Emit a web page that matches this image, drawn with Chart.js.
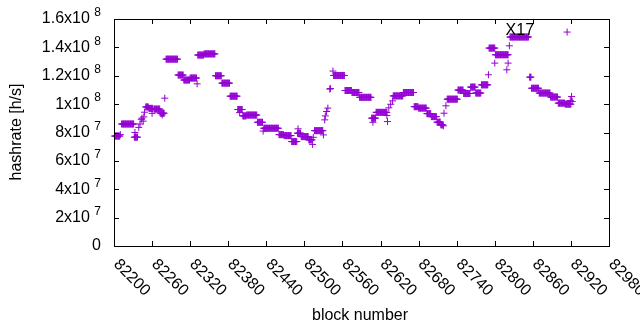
<!DOCTYPE html>
<html>
<head>
<meta charset="utf-8">
<script src="https://cdn.jsdelivr.net/npm/chart.js@4.4.1/dist/chart.umd.min.js"></script>
<style>
  html, body { margin: 0; padding: 0; background: #fff; }
  #wrap { width: 640px; height: 330px; }
</style>
</head>
<body>
<div id="wrap"><canvas id="hashChart"></canvas></div>
<script>
// runs of blocks that share one hashrate estimate (first block, last block, h/s)
const runStart = [82201, 82212, 82232, 82250, 82255, 82263, 82273, 82282, 82301, 82310, 82320, 82332, 82342, 82360, 82370, 82383, 82395, 82403, 82409, 82426, 82436, 82460, 82468, 82480, 82489, 82495, 82507, 82516, 82546, 82564, 82575, 82587, 82606, 82613, 82640, 82656, 82673, 82680, 82693, 82700, 82709, 82715, 82725, 82742, 82751, 82762, 82770, 82779, 82791, 82801, 82824, 82855, 82858, 82870, 82888, 82900, 82911]
const runEnd   = [82209, 82231, 82237, 82254, 82261, 82272, 82279, 82300, 82309, 82319, 82330, 82341, 82359, 82369, 82382, 82394, 82402, 82408, 82425, 82434, 82459, 82467, 82479, 82488, 82494, 82506, 82512, 82529, 82563, 82574, 82586, 82605, 82612, 82630, 82655, 82672, 82679, 82692, 82699, 82708, 82714, 82718, 82741, 82750, 82761, 82769, 82778, 82789, 82800, 82821, 82853, 82857, 82869, 82887, 82899, 82910, 82920]
const runValue = [7.75e7, 8.6e7, 7.67e7, 9.8e7, 9.7e7, 9.65e7, 9.36e7, 13.17e7, 12.05e7, 11.7e7, 11.84e7, 13.46e7, 13.54e7, 12.0e7, 11.48e7, 10.56e7, 9.62e7, 9.17e7, 9.23e7, 8.72e7, 8.3e7, 7.85e7, 7.78e7, 7.36e7, 7.95e7, 7.71e7, 7.48e7, 8.13e7, 12.02e7, 10.96e7, 10.82e7, 10.48e7, 9.01e7, 9.42e7, 10.58e7, 10.82e7, 9.82e7, 9.72e7, 9.33e7, 9.12e7, 8.73e7, 8.54e7, 10.35e7, 10.99e7, 10.75e7, 11.2e7, 10.78e7, 11.36e7, 13.95e7, 13.48e7, 14.73e7, 11.9e7, 11.12e7, 10.78e7, 10.5e7, 10.07e7, 10.0e7]

// single blocks off the runs
const pointBlock = [82210, 82233, 82239, 82241, 82243, 82244, 82246, 82247, 82248, 82260, 82276, 82280, 82331, 82398, 82435, 82490, 82513, 82514, 82530, 82532, 82533, 82535, 82537, 82540, 82541, 82545, 82608, 82630, 82631, 82633, 82636, 82639, 82719, 82720, 82723, 82790, 82800, 82819, 82821, 82823, 82914, 82919, 82921, 82922]
const pointValue = [7.85e7, 8.0e7, 8.36e7, 8.6e7, 8.93e7, 9.01e7, 8.8e7, 9.1e7, 9.43e7, 9.35e7, 9.24e7, 10.42e7, 11.43e7, 9.4e7, 8.1e7, 8.26e7, 7.16e7, 7.66e7, 7.83e7, 8.89e7, 9.17e7, 9.48e7, 9.72e7, 11.06e7, 11.1e7, 12.33e7, 8.72e7, 9.2e7, 8.77e7, 9.74e7, 9.99e7, 10.23e7, 8.47e7, 9.36e7, 9.88e7, 12.07e7, 12.89e7, 12.42e7, 12.89e7, 14.11e7, 15.08e7, 10.25e7, 10.54e7, 10.18e7]

const xTicks = [82200, 82260, 82320, 82380, 82440, 82500, 82560, 82620, 82680, 82740, 82800, 82860, 82920, 82980]
const yTicks = [0, 2e7, 4e7, 6e7, 8e7, 1e8, 1.2e8, 1.4e8, 1.6e8]
const yTickBase = ['0', '2x10', '4x10', '6x10', '8x10', '1x10', '1.2x10', '1.4x10', '1.6x10']
const yTickExp = ['', '7', '7', '7', '7', '8', '8', '8', '8']

const mark = { text: 'X17', block: 82817, value: 1.515e8 }

const PURPLE = '#9400d3'
const FONT = '"Liberation Sans", Arial, sans-serif'

const points = []
runStart.forEach((s, i) => {
  for (let b = s; b <= runEnd[i]; b++) points.push({ x: b, y: runValue[i] })
})
pointBlock.forEach((b, i) => points.push({ x: b, y: pointValue[i] }))

// gnuplot-like frame: box, inward ticks on all sides, labels
const frame = {
  id: 'frame',
  afterDatasetsDraw(chart) {
    const { ctx, chartArea: a, scales } = chart
    const xs = scales.x, ys = scales.y
    const tl = 5
    ctx.save()
    ctx.strokeStyle = '#000'
    ctx.lineWidth = 1
    ctx.beginPath()
    xTicks.forEach(v => {
      const px = Math.round(xs.getPixelForValue(v)) + 0.5
      ctx.moveTo(px, a.bottom); ctx.lineTo(px, a.bottom - tl)
      ctx.moveTo(px, a.top); ctx.lineTo(px, a.top + tl)
    })
    yTicks.forEach(v => {
      const py = Math.round(ys.getPixelForValue(v)) + 0.5
      ctx.moveTo(a.left, py); ctx.lineTo(a.left + tl, py)
      ctx.moveTo(a.right, py); ctx.lineTo(a.right - tl, py)
    })
    ctx.stroke()
    ctx.strokeRect(a.left + 0.5, a.top + 0.5, a.right - a.left, a.bottom - a.top)

    ctx.fillStyle = '#000'
    // y labels with raised exponent
    const rightEdge = 101
    yTicks.forEach((v, i) => {
      const py = ys.getPixelForValue(v)
      ctx.font = '16px ' + FONT
      const bw = ctx.measureText(yTickBase[i]).width
      const sp = yTickExp[i] ? ctx.measureText(' ').width : 0
      ctx.font = '12px ' + FONT
      const ew = yTickExp[i] ? ctx.measureText(yTickExp[i]).width : 0
      ctx.textAlign = 'left'
      ctx.textBaseline = 'middle'
      ctx.font = '16px ' + FONT
      ctx.fillText(yTickBase[i], rightEdge - bw - sp - ew, py)
      if (yTickExp[i]) {
        ctx.font = '12px ' + FONT
        ctx.fillText(yTickExp[i], rightEdge - ew, py - 6)
      }
    })
    // x labels, rotated down-right
    ctx.font = '16px ' + FONT
    xTicks.forEach(v => {
      const px = xs.getPixelForValue(v)
      ctx.save()
      ctx.translate(px + 2, a.bottom + 16)
      ctx.rotate(Math.PI / 4)
      ctx.textAlign = 'left'
      ctx.textBaseline = 'middle'
      ctx.fillText(String(v), 0, 0)
      ctx.restore()
    })
    // axis titles
    ctx.textAlign = 'center'
    ctx.textBaseline = 'middle'
    ctx.fillText('block number', 360, 316)
    ctx.save()
    ctx.translate(17, 132)
    ctx.rotate(-Math.PI / 2)
    ctx.fillText('hashrate [h/s]', 0, 0)
    ctx.restore()
    // label
    ctx.textAlign = 'left'
    ctx.fillText(mark.text, xs.getPixelForValue(mark.block), ys.getPixelForValue(mark.value))
    ctx.restore()
  }
}

new Chart(document.getElementById('hashChart'), {
  type: 'scatter',
  data: {
    datasets: [{
      data: points,
      pointStyle: 'cross',
      pointRadius: 3.5,
      pointHoverRadius: 3.5,
      borderColor: PURPLE,
      backgroundColor: PURPLE,
      borderWidth: 1,
      clip: false,
    }]
  },
  options: {
    responsive: true,
    maintainAspectRatio: false,
    animation: false,
    events: [],
    layout: { padding: { left: 114, right: 31, top: 19, bottom: 84 } },
    plugins: { legend: { display: false }, tooltip: { enabled: false } },
    scales: {
      x: { type: 'linear', min: 82200, max: 82980, display: false },
      y: { type: 'linear', min: 0, max: 1.6e8, display: false },
    },
  },
  plugins: [frame],
})
</script>
</body>
</html>
